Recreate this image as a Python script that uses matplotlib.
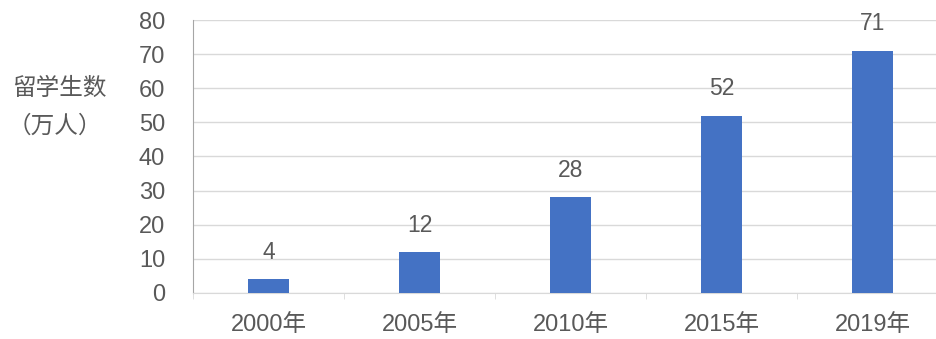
import matplotlib
matplotlib.use('Agg')
import matplotlib.pyplot as plt
import numpy as np

plt.rcParams['font.family'] = ['Liberation Sans', 'Noto Sans CJK SC', 'DejaVu Sans']

# Dati
years = ['2000年', '2005年', '2010年', '2015年', '2019年']
students = [4, 12, 28, 52, 71]
y_ticks = [0, 10, 20, 30, 40, 50, 60, 70, 80]

text_color = '#595959'
bar_color = '#4472C4'

fig = plt.figure(figsize=(9.37, 3.39), dpi=100)
ax = fig.add_axes([0.206, 0.136, 0.806, 0.805])

x = np.arange(len(years))
ax.bar(x, students, width=0.27, color=bar_color, zorder=3)

# Etichette dei valori
for xi, v in zip(x, students):
    ax.annotate(str(v), (xi, v), xytext=(0, 11), textcoords='offset points',
                ha='center', va='bottom', fontsize=16.5, color=text_color)

ax.set_xlim(-0.5, len(years) - 0.5)
ax.set_ylim(0, 80)
ax.set_yticks(y_ticks)
ax.set_xticks(x)
ax.set_xticklabels(years)
ax.set_xticks(np.arange(-0.5, len(years), 1), minor=True)

ax.tick_params(axis='y', length=0, pad=20, labelsize=17, labelcolor=text_color)
ax.tick_params(axis='x', which='major', length=0, pad=15, labelsize=17, labelcolor=text_color)
ax.tick_params(axis='x', which='minor', length=4, color='#d9d9d9', direction='out')

ax.grid(axis='y', color='#d9d9d9', linewidth=1, zorder=0)
for s in ['top', 'right']:
    ax.spines[s].set_visible(False)
ax.spines['left'].set_color('#a6a6a6')
ax.spines['bottom'].set_color('#d9d9d9')

fig.text(0.063, 0.737, '留学生数', ha='center', va='center', fontsize=17, color=text_color)
fig.text(0.058, 0.628, '（万人）', ha='center', va='center', fontsize=17, color=text_color)

plt.savefig('out.png', dpi=100)
